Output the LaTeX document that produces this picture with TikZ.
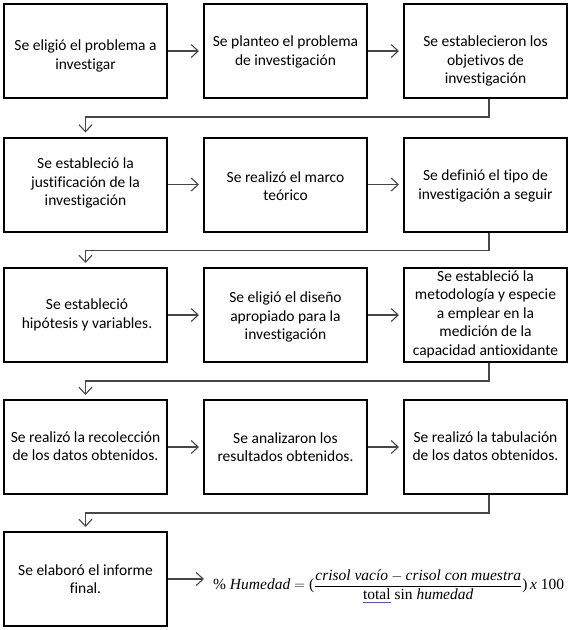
\documentclass[tikz,border=0pt]{standalone}
\usepackage{amsmath}
\usepackage{fontspec}
\setmainfont{Carlito}[Ligatures={NoCommon}]
\newfontfamily\formfont{Liberation Serif}
\usetikzlibrary{arrows.meta,calc}
\begin{document}
\begin{tikzpicture}[x=1pt,y=-1pt,
  stepbox/.style={draw=black,line width=2pt,minimum width=163pt,minimum height=94pt,inner sep=0pt},
  steptext/.style={align=center,font=\fontsize{15.5}{18.5}\selectfont,inner sep=0pt},
  conn/.style={draw=black!72,line width=1.1pt,shorten >=4pt,-{Straight Barb[length=7pt,width=13pt,line width=1.1pt]}}]
\useasboundingbox (0,0) rectangle (572,630);
% boxes
\foreach \r/\y in {1/51,2/184.5,3/315,4/447}{
  \foreach \c/\x in {1/85.5,2/285.5,3/485.5}{
    \node[stepbox] (b\r\c) at (\x,\y) {};
  }
}
\node[stepbox] (b51) at (85.5,579) {};
% texts
\node[steptext] (t11) at (85.5,56) {Se eligió el problema a\\investigar};
\node[steptext] (t12) at (285.5,52) {Se planteo el problema\\de investigación};
\node[steptext] (t13) at (485.5,61) {Se establecieron los\\objetivos de\\investigación};
\node[steptext] (t21) at (85.5,183) {Se estableció la\\justificación de la\\investigación};
\node[steptext] (t22) at (285.5,186) {Se realizó el marco\\teórico};
\node[steptext] (t23) at (485.5,186) {Se definió el tipo de\\investigación a seguir};
\node[steptext] (t31) at (87,315) {Se estableció\\hipótesis y variables.};
\node[steptext] (t32) at (285.5,317) {Se eligió el diseño\\apropiado para la\\investigación};
\node[steptext] (t33) at (485.5,314) {Se estableció la\\metodología y especie\\a emplear en la\\medición de la\\capacidad antioxidante};
\node[steptext] (t41) at (85.5,446) {Se realizó la recolección\\de los datos obtenidos.};
\node[steptext] (t42) at (285.5,447) {Se analizaron los\\resultados obtenidos.};
\node[steptext] (t43) at (485.5,446) {Se realizó la tabulación\\de los datos obtenidos.};
\node[steptext] (t51) at (85.5,579) {Se elaboró el informe\\final.};
% formula
\node[anchor=west,inner sep=0pt,font=\formfont\fontsize{15.5}{18}\selectfont] (f) at (213,586)
  {\% \textit{Humedad} $=$ ($\displaystyle\frac{\text{\itshape crisol vacío} - \text{\itshape crisol con muestra}}{\text{{\color{blue!70}\underline{{\color{black}total}}} sin \itshape humedad}}$)\,\textit{x} 100};
\coordinate (fin) at ([xshift=-9pt]b51.east -| f.west);
% horizontal connectors
\foreach \r in {1,2,3,4}{
  \draw[conn] (b\r1.east) -- (b\r2.west);
  \draw[conn] (b\r2.east) -- (b\r3.west);
}
\draw[conn,shorten >=0pt] (b51.east) -- (fin);
% row-to-row connectors
\foreach \r/\n in {1/2,2/3,3/4,4/5}{
  \draw[conn] ([xshift=3.5pt]b\r3.south) -- ++(0,18) -| (b\n1.north);
}
\end{tikzpicture}
\end{document}
